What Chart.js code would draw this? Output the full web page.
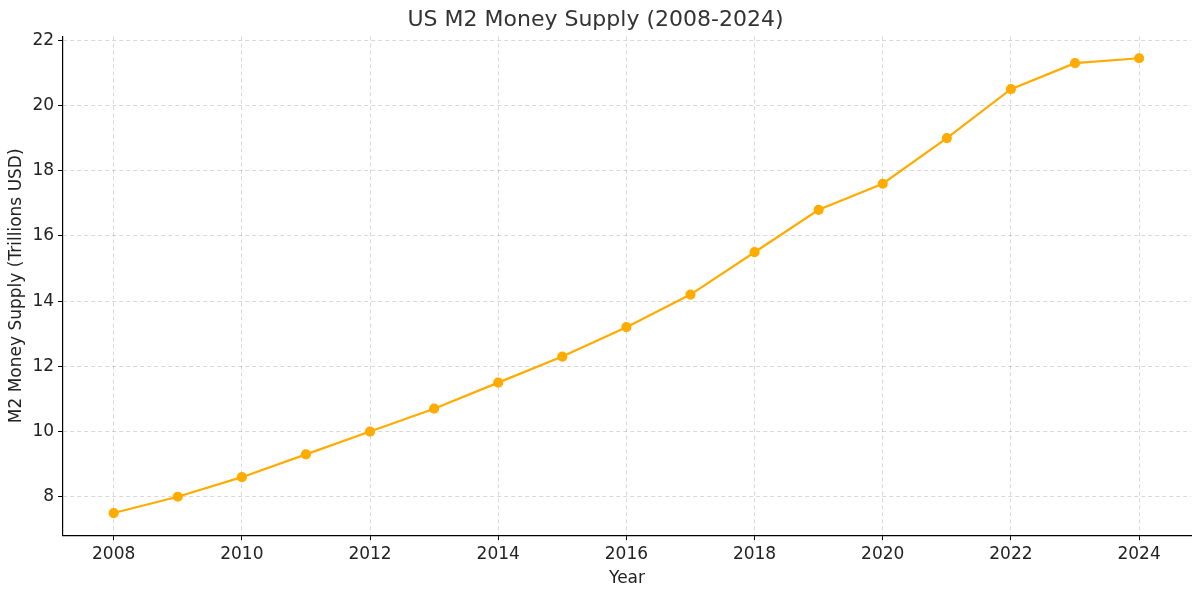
<!DOCTYPE html>
<html><head><meta charset="utf-8">
<script src="https://cdn.jsdelivr.net/npm/chart.js@4"></script>
<style>html,body{margin:0;padding:0;background:#fff}#wrap{width:1200px;height:595px}</style>
</head><body><div id="wrap"><canvas id="c"></canvas></div>
<script>
const years = [2008,2009,2010,2011,2012,2013,2014,2015,2016,2017,2018,2019,2020,2021,2022,2023,2024];
const m2 = [7.5,8.0,8.6,9.3,10.0,10.7,11.5,12.3,13.2,14.2,15.5,16.8,17.6,19.0,20.5,21.3,21.45];
const titleText = 'US M2 Money Supply (2008-2024)';
const xLabel = 'Year';
const yLabel = 'M2 Money Supply (Trillions USD)';
const font = 'DejaVu Sans';
new Chart(document.getElementById('c'), {
  type: 'line',
  data: { datasets: [{ data: years.map((y,i)=>({x:y,y:m2[i]})), borderColor:'#ffab00', backgroundColor:'#ffab00', borderWidth:2.2, pointRadius:4, pointHoverRadius:4, tension:0 }] },
  options: {
    responsive:true, maintainAspectRatio:false, animation:false,
    layout:{padding:{left:0,right:9,top:0,bottom:0}},
    plugins:{ legend:{display:false}, tooltip:{enabled:false},
      title:{display:true,text:titleText,color:'#333',font:{family:font,size:22,weight:'normal'},padding:{top:7,bottom:3}} },
    scales:{
      x:{ type:'linear', min:2007.21, max:2024.81,
        ticks:{stepSize:2, callback:v=>String(v), color:'#222', font:{family:font,size:17}, autoSkip:false, padding:4},
        afterBuildTicks:a=>{a.ticks=[2008,2010,2012,2014,2016,2018,2020,2022,2024].map(v=>({value:v}));},
        grid:{color:'rgba(0,0,0,0.15)', tickColor:'#000', tickLength:5},
        border:{display:true,color:'#000',width:1.2,dash:[4,3]},
        title:{display:true,text:xLabel,color:'#222',font:{family:font,size:17},padding:{top:0,bottom:6}} },
      y:{ min:6.82, max:22.12,
        afterBuildTicks:a=>{a.ticks=[8,10,12,14,16,18,20,22].map(v=>({value:v}));},
        ticks:{color:'#222', font:{family:font,size:17}, padding:4},
        grid:{color:'rgba(0,0,0,0.15)', tickColor:'#000', tickLength:5},
        border:{display:true,color:'#000',width:1.2,dash:[4,3]},
        title:{display:true,text:yLabel,color:'#222',font:{family:font,size:17},padding:{top:6,bottom:2}} }
    }
  }
});
</script></body></html>
